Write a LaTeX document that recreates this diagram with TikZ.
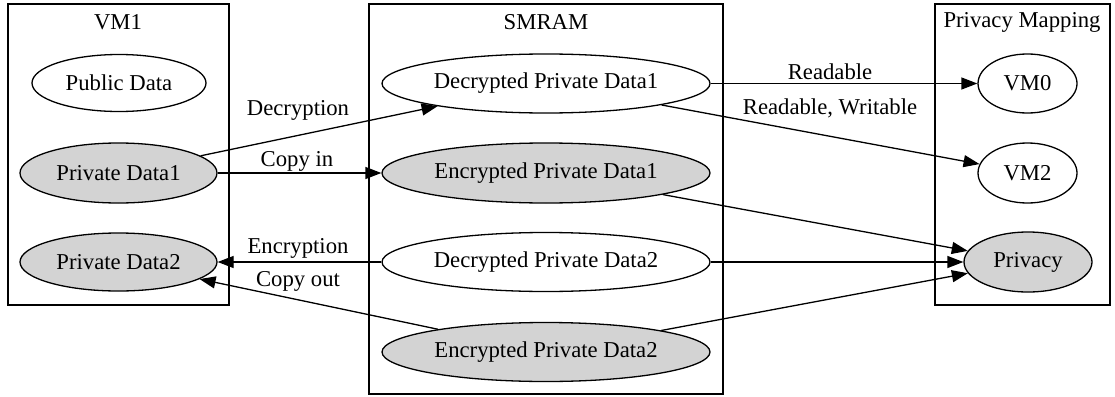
\documentclass[tikz,border=0pt]{standalone}
\usepackage{fontspec}
\setmainfont{Liberation Serif}
\usetikzlibrary{shapes.geometric,arrows.meta}
\definecolor{lgray}{HTML}{D3D3D3}
\tikzset{
  every picture/.style={line width=1.3pt},
  oval/.style={ellipse, draw=black, fill=white, inner sep=0pt, font=\fontsize{22.7}{27}\selectfont},
  ovalgray/.style={oval, fill=lgray},
  cluster/.style={draw=black, line width=1.3pt},
  clustertitle/.style={font=\fontsize{22.7}{27}\selectfont, inner sep=0pt},
  elabel/.style={font=\fontsize{22.7}{27}\selectfont, inner sep=0pt},
  link/.style={draw=black, -{Triangle[length=16pt,width=12pt]}},
}
\begin{document}
\begin{tikzpicture}[x=1pt,y=-1pt]
\useasboundingbox (0,0) rectangle (1115,396);
\fill[white] (0,0) rectangle (1115,396);

% clusters
\draw[cluster] (8,4) rectangle (229,305);
\draw[cluster] (369,4) rectangle (723,394);
\draw[cluster] (935,4) rectangle (1110,305);
\node[clustertitle] (t1) at (118,22) {VM1};
\node[clustertitle] (t2) at (546,22) {SMRAM};
\node[clustertitle] (t3) at (1022,22) {Privacy Mapping};

% VM1 nodes
\node[oval, minimum width=174pt, minimum height=57pt] (pub) at (119,83) {Public Data};
\node[ovalgray, minimum width=197pt, minimum height=60pt] (pd1) at (118.5,173) {Private Data1};
\node[ovalgray, minimum width=197pt, minimum height=58pt] (pd2) at (118.5,262) {Private Data2};

% SMRAM nodes
\node[oval, minimum width=328pt, minimum height=59pt] (dpd1) at (546,83.5) {Decrypted Private Data1};
\node[ovalgray, minimum width=328pt, minimum height=60pt] (epd1) at (546,173) {Encrypted Private Data1};
\node[oval, minimum width=328pt, minimum height=59pt] (dpd2) at (546,262) {Decrypted Private Data2};
\node[ovalgray, minimum width=328pt, minimum height=59pt] (epd2) at (546,352) {Encrypted Private Data2};

% Privacy Mapping nodes
\node[oval, minimum width=99pt, minimum height=59pt] (vm0) at (1027.5,83.5) {VM0};
\node[oval, minimum width=99pt, minimum height=60pt] (vm2) at (1027.5,173) {VM2};
\node[ovalgray, minimum width=128pt, minimum height=60pt] (priv) at (1028,262) {Privacy};

% edges
\draw[link] (pd1) -- (dpd1);
\draw[link] (pd1) -- (epd1);
\draw[link] (dpd2) -- (pd2);
\draw[link] (epd2) -- (pd2);
\draw[link] (dpd1) -- (vm0);
\draw[link] (dpd1) -- (vm2);
\draw[link] (epd1) -- (priv);
\draw[link] (dpd2) -- (priv);
\draw[link] (epd2) -- (priv);

% edge labels
\node[elabel] (l1) at (298,110) {Decryption};
\node[elabel] (l2) at (297,161) {Copy in};
\node[elabel] (l3) at (298,248) {Encryption};
\node[elabel] (l4) at (298,281) {Copy out};
\node[elabel] (l5) at (830,72) {Readable};
\node[elabel] (l6) at (830,108) {Readable, Writable};
\end{tikzpicture}
\end{document}
